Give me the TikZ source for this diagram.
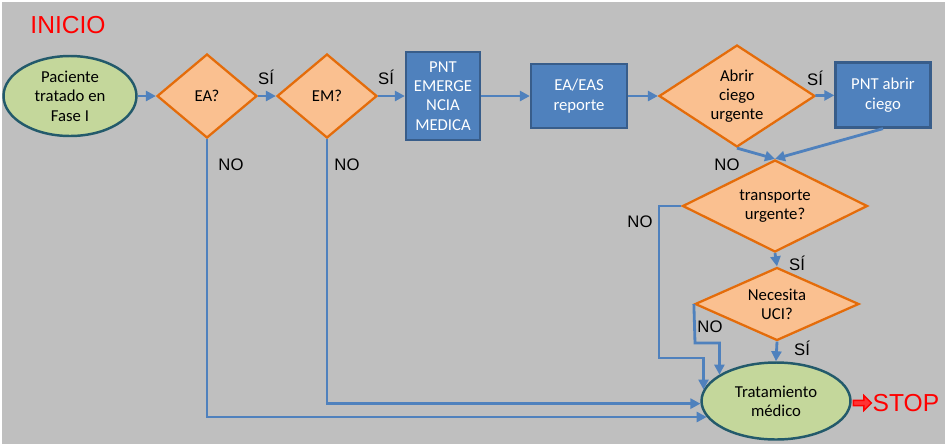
\documentclass[tikz,border=0pt]{standalone}
\usepackage{fontspec}
\setmainfont{Carlito}
\newfontfamily\labelfont{Liberation Sans}
\usetikzlibrary{arrows.meta,shapes.geometric,shapes.arrows,positioning}
\definecolor{flowBlue}{HTML}{4F81BD}
\definecolor{flowBlueDark}{HTML}{385D8A}
\definecolor{flowGreenLight}{HTML}{C4D79B}
\definecolor{flowTeal}{HTML}{235A6B}
\definecolor{flowOrange}{HTML}{E46C0A}
\definecolor{flowOrangeLight}{HTML}{FAC090}
\definecolor{flowGray}{HTML}{BFBFBF}
\definecolor{flowRed}{HTML}{FF0000}
\tikzset{
  flow/.style={-{Triangle[length=2mm,width=2mm]}, line width=1.6pt,
    draw=flowBlue},
  terminal/.style={ellipse, draw=flowTeal, line width=1.4pt,
    fill=flowGreenLight, align=center, inner sep=0pt,
    font=\fontsize{9.5}{11}\selectfont},
  decision/.style={diamond, draw=flowOrange, line width=1.3pt,
    fill=flowOrangeLight, align=center, inner sep=0pt,
    font=\fontsize{9.5}{11}\selectfont},
  action/.style={rectangle, draw=flowBlueDark, line width=1.3pt,
    fill=flowBlue, text=white, align=center, inner sep=0pt,
    font=\fontsize{9.5}{11}\selectfont},
  answer/.style={font=\labelfont\fontsize{9.5}{11}\selectfont,
    inner sep=0pt},
  big red/.style={font=\labelfont\fontsize{14}{16}\selectfont,
    text=flowRed, inner sep=0pt}
}
\begin{document}
\begin{tikzpicture}[x=0.02cm, y=-0.02cm]
  \useasboundingbox (0,0) rectangle (947,444);
  \fill[flowGray] (2,2) rectangle (945,444);
  \node[big red] (inicio) at (68,25) {INICIO};
  % top row
  \node[terminal, minimum width=2.66cm, minimum height=1.6cm]
    (paciente) at (70,96) {Paciente\\tratado en\\Fase I};
  \node[decision, minimum width=2cm, minimum height=1.68cm, aspect=1.2]
    (ea) at (207,96) {EA?};
  \node[decision, minimum width=2cm, minimum height=1.68cm, aspect=1.2]
    (em) at (327,96) {EM?};
  \node[action, minimum width=1.48cm, minimum height=1.76cm]
    (pnt) at (443,96) {PNT\\EMERGE\\NCIA\\MEDICA};
  \node[action, minimum width=1.92cm, minimum height=1.28cm]
    (reporte) at (579,96) {EA/EAS\\reporte};
  \node[decision, minimum width=3.12cm, minimum height=2.04cm, aspect=1.53]
    (abrir) at (737,96) {Abrir\\ciego\\urgente};
  \node[action, minimum width=1.9cm, minimum height=1.3cm]
    (pntciego) at (883,95) {PNT abrir\\ciego};
  % right column
  \node[decision, minimum width=3.7cm, minimum height=1.84cm, aspect=2]
    (transporte) at (775,206) {transporte\\urgente?};
  \node[decision, minimum width=3.28cm, minimum height=1.46cm, aspect=2.25]
    (uci) at (777,304) {Necesita\\UCI?};
  \node[terminal, minimum width=2.98cm, minimum height=1.54cm]
    (tratamiento) at (776,401) {Tratamiento\\médico};
  \node[single arrow, draw=flowRed, fill=flowRed!80, line width=0.8pt,
    minimum width=0.3cm, minimum height=0.36cm, inner sep=0.5pt,
    single arrow head extend=0.06cm] (stoparrow) at (861,403) {};
  \node[big red] (stop) at (906,403) {STOP};
  % answers
  \node[answer] (si1) at (266,77) {SÍ};
  \node[answer] (si2) at (386,77) {SÍ};
  \node[answer] (si3) at (815,78) {SÍ};
  \node[answer] (si4) at (797,263) {SÍ};
  \node[answer] (si5) at (802,348) {SÍ};
  \node[answer] (no1) at (231,165) {NO};
  \node[answer] (no2) at (347,165) {NO};
  \node[answer] (no3) at (727,165) {NO};
  \node[answer] (no4) at (640,222) {NO};
  \node[answer] (no5) at (710,327) {NO};
  % corners of the NO lines
  \coordinate (transno) at (659,358);
  \coordinate (ucino) at (695,343);
  % connectors
  \draw[flow] (paciente) -- (ea);
  \draw[flow] (ea) -- (em);
  \draw[flow] (em) -- (pnt);
  \draw[flow] (pnt) -- (reporte);
  \draw[flow] (reporte) -- (abrir);
  \draw[flow] (abrir) -- (pntciego);
  \draw[flow] (abrir.south) -- (transporte.north);
  \draw[flow] (pntciego.south) -- (transporte.north);
  \draw[flow] (transporte.south) -- (uci.north);
  \draw[flow] (uci.south) -- (tratamiento.north);
  \draw[flow] (ea.south) |- (tratamiento.193);
  \draw[flow] (em.south) |- (tratamiento.182);
  \draw[flow] (transporte.west) -| (transno) -| (tratamiento.171);
  \draw[flow] (uci.west) -- (ucino) -| (tratamiento.155);
\end{tikzpicture}
\end{document}
